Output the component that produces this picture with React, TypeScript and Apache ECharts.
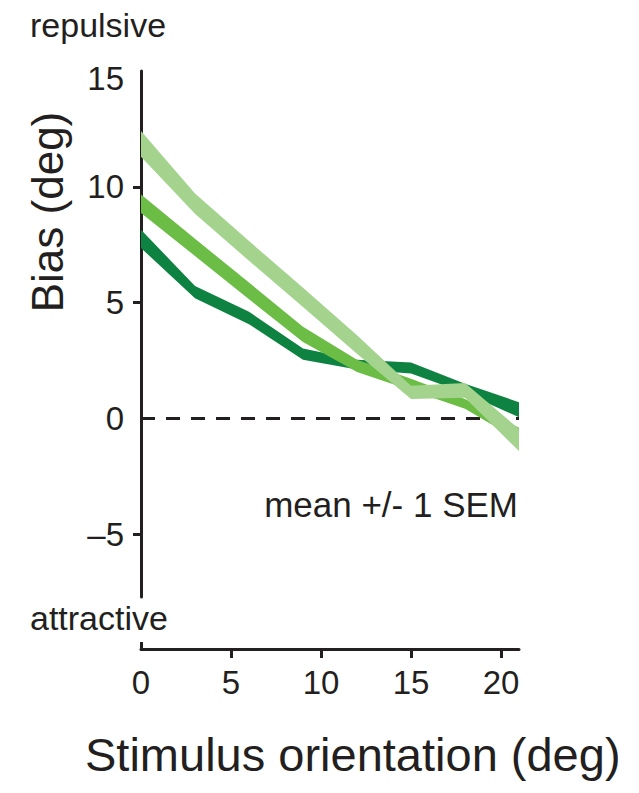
import React, { useEffect, useRef } from "react";
import * as echarts from "echarts";

// Stimulus orientation (deg) sample points
const orientations = [0, 3, 6, 9, 12, 15, 18, 21];
// Bands: mean +/- 1 SEM (upper / lower edges), bias in deg
const darkUpper = [8.15, 5.72, 4.61, 3.02, 2.54, 2.42, 1.5, 0.71];
const darkLower = [7.36, 5.19, 4.07, 2.54, 2.12, 1.95, 1.1, 0.06];
const midUpper = [9.67, 7.76, 5.87, 3.96, 2.54, 1.72, 0.85, -0.4];
const midLower = [8.87, 7.02, 5.15, 3.31, 2.01, 1.22, 0.42, -0.95];
const lightUpper = [12.41, 9.71, 7.66, 5.65, 3.6, 1.42, 1.53, -0.45];
const lightLower = [11.3, 8.84, 6.81, 4.82, 2.8, 0.85, 0.9, -1.4];

const xTickLabels = [0, 5, 10, 15, 20];
const xTicks = [5, 10, 15, 20];
const yTickLabels = [-5, 0, 5, 10, 15];
const yTicks = [-5, 5, 10];
const zeroLineX = [0, 21];

const INK = "#231f20";
const FONT = "'Liberation Sans', Arial, Helvetica, sans-serif";
const COLORS = { dark: "#0e8241", mid: "#6bbd46", light: "#a3d38c" };

function bandSeries(upper: number[], lower: number[], color: string, z: number) {
  return {
    type: "custom",
    coordinateSystem: "cartesian2d",
    xAxisIndex: 0,
    yAxisIndex: 0,
    silent: true,
    clip: false,
    z,
    data: orientations.map((x, i) => [x, lower[i], upper[i]]),
    encode: { x: 0, y: [1, 2] },
    renderItem: (params: any, api: any) => {
      if (params.dataIndex !== 0) return null;
      const top = orientations.map((x, i) => api.coord([x, upper[i]]));
      const bottom = orientations.map((x, i) => api.coord([x, lower[i]])).reverse();
      return {
        type: "polygon",
        shape: { points: top.concat(bottom) },
        style: { fill: color, stroke: null },
      };
    },
  };
}

export default function App() {
  const ref = useRef<HTMLDivElement>(null);
  useEffect(() => {
    if (!ref.current) return;
    const chart = echarts.init(ref.current, null, { renderer: "svg" });
    chart.setOption({
      animation: false,
      backgroundColor: "#ffffff",
      textStyle: { fontFamily: FONT, color: INK },
      grid: { left: 141, right: 120, top: 71, bottom: 196, containLabel: false },
      xAxis: [
        {
          type: "value",
          position: "bottom",
          min: 0,
          max: 21,
          offset: 52,
          splitLine: { show: false },
          axisLine: { show: true, onZero: false, lineStyle: { color: INK, width: 3 } },
          axisTick: { show: true, length: 9, customValues: xTicks, lineStyle: { color: INK, width: 3 } },
          axisLabel: {
            customValues: xTickLabels,
            fontSize: 33,
            fontFamily: FONT,
            color: INK,
            margin: 17,
          },
        },
        {
          type: "value",
          position: "bottom",
          min: 0,
          max: 21,
          offset: 52,
          splitLine: { show: false },
          axisLine: { show: false, onZero: false },
          axisTick: { show: true, inside: true, length: 7, customValues: [0], lineStyle: { color: INK, width: 3 } },
          axisLabel: { show: false },
        },
      ],
      yAxis: {
        type: "value",
        min: -7.7,
        max: 15,
        splitLine: { show: false },
        axisLine: { show: true, onZero: false, lineStyle: { color: INK, width: 3 } },
        axisTick: { show: true, length: 8, customValues: yTicks, lineStyle: { color: INK, width: 3 } },
        axisLabel: {
          customValues: yTickLabels,
          fontSize: 33,
          fontFamily: FONT,
          color: INK,
          margin: 17,
          formatter: (v: number) =>
            v === 15 ? "{top|15}" : v < 0 ? "\u2013" + Math.abs(v) : String(v),
          rich: {
            top: { fontSize: 33, fontFamily: FONT, color: INK, padding: [14, 0, 0, 0] },
          },
        },
      },
      series: [
        {
          type: "line",
          data: zeroLineX.map((x) => [x, 0]),
          symbol: "none",
          silent: true,
          z: 1,
          lineStyle: { color: INK, width: 3, type: [14, 11] },
        },
        bandSeries(darkUpper, darkLower, COLORS.dark, 2),
        bandSeries(midUpper, midLower, COLORS.mid, 3),
        bandSeries(lightUpper, lightLower, COLORS.light, 4),
      ],
      graphic: [
        {
          type: "text",
          x: 30,
          y: 25,
          style: { text: "repulsive", font: `34px ${FONT}`, fill: INK, verticalAlign: "middle", align: "left" },
        },
        {
          type: "text",
          x: 30,
          y: 618,
          style: { text: "attractive", font: `34px ${FONT}`, fill: INK, verticalAlign: "middle", align: "left" },
        },
        {
          type: "text",
          x: 518,
          y: 504,
          style: { text: "mean +/- 1 SEM", font: `35px ${FONT}`, fill: INK, verticalAlign: "middle", align: "right" },
        },
        {
          type: "text",
          x: 47,
          y: 212,
          rotation: Math.PI / 2,
          style: { text: "Bias (deg)", font: `44px ${FONT}`, fill: INK, verticalAlign: "middle", align: "center" },
        },
        {
          type: "text",
          x: 85,
          y: 754,
          style: { text: "Stimulus orientation (deg)", font: `47px ${FONT}`, fill: INK, verticalAlign: "middle", align: "left" },
        },
      ],
    });
    return () => chart.dispose();
  }, []);
  return <div ref={ref} style={{ position: "fixed", left: 0, top: 0, width: 639, height: 793 }} />;
}
